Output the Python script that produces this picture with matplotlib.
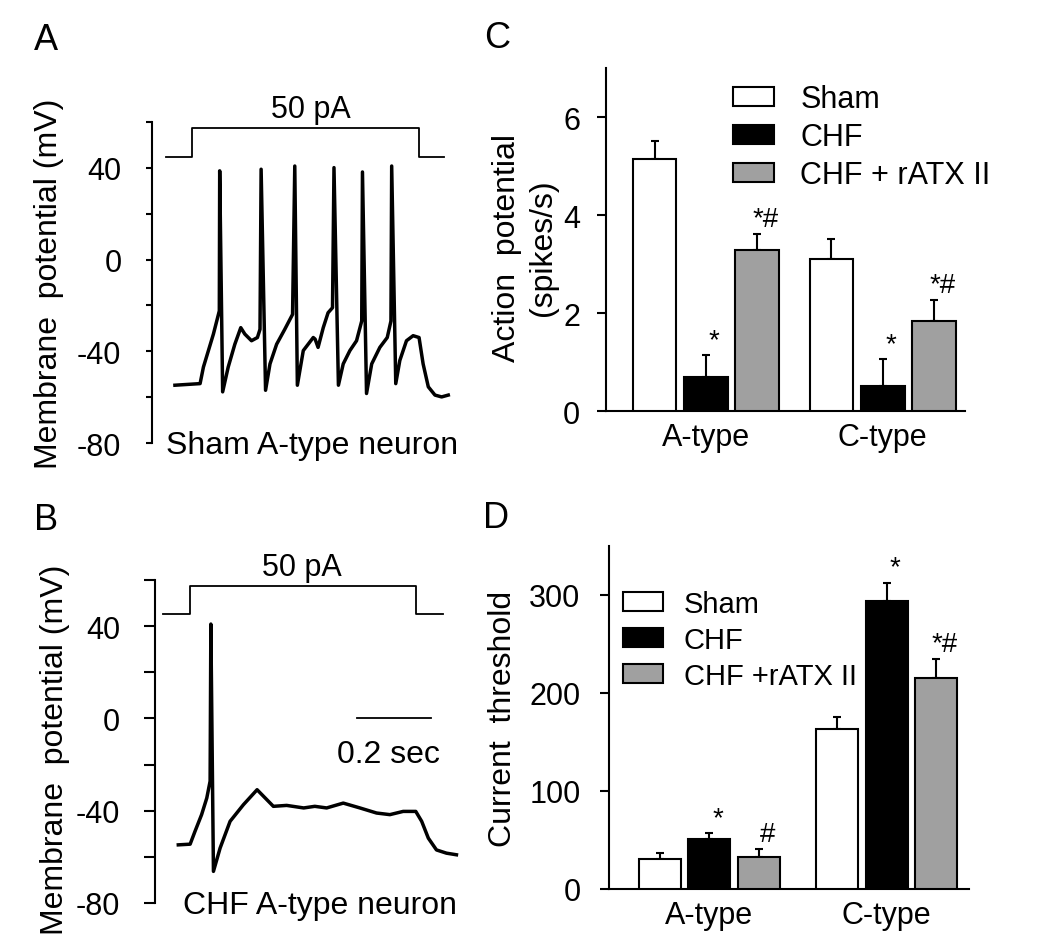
"""Sham vs CHF A-type neuron recordings with action potential and current threshold bars."""

import numpy as np
import matplotlib
matplotlib.use('Agg')
import matplotlib.pyplot as plt
from matplotlib.patches import Patch

plt.rcParams['font.family'] = ['Liberation Sans', 'DejaVu Sans']
plt.rcParams['font.size'] = 22

# ---- traces (time in ms, membrane potential in mV) ----
sham_t = [62, 130, 139, 166, 182, 183, 191, 206, 224, 240, 251, 269, 285, 292, 295,
          307, 319, 337, 359, 380, 386, 393, 409, 436, 441, 449, 463, 476, 488, 492,
          504, 517, 535, 553, 567, 569, 580, 594, 616, 636, 646, 648, 659, 670, 688,
          706, 722, 733, 747, 765, 783, 801]
sham_v = [-54.8, -54.1, -46.9, -32.5, -22.4, 38.7, -57.7, -46.9, -36.9, -29.7, -32.5,
          -35.4, -34.0, -30.4, 39.4, -57.0, -45.5, -36.9, -30.4, -23.9, 40.8, -54.8,
          -39.7, -34.0, -34.7, -38.3, -29.7, -23.2, -21.0, 40.1, -54.8, -45.5, -39.7,
          -35.4, -26.8, 38.2, -58.4, -45.5, -38.3, -34.0, -26.8, 40.8, -54.1, -44.0,
          -35.4, -33.2, -34.0, -45.5, -55.5, -59.1, -59.9, -59.1]

chf_t = [63, 95, 108, 126, 140, 149, 151, 158, 176, 203, 239, 276, 320, 356, 402, 432,
         464, 509, 554, 599, 635, 671, 705, 721, 739, 761, 788, 815]
chf_v = [-54.8, -54.5, -49.0, -41.7, -34.5, -27.2, 40.9, -66.3, -56.2, -44.6, -37.4,
         -30.9, -38.1, -37.7, -38.8, -38.1, -38.8, -36.7, -38.8, -41.0, -41.7, -40.3,
         -40.3, -44.6, -51.9, -57.0, -58.4, -59.1]

# current step marker (drawn on the voltage scale)
stim_sham_t = [38, 108, 722, 789]
stim_sham_v = [44.6, 57.5, 44.6, 44.6]
stim_chf_t = [22, 95, 705, 779]
stim_chf_v = [45.2, 57.3, 45.2, 45.2]

# ---- bar data ----
groups = ['A-type', 'C-type']
conditions = ['Sham', 'CHF', 'CHF + rATX II']
colors = ['white', 'black', '#a0a0a0']

ap_mean = {'Sham': [5.15, 3.10], 'CHF': [0.70, 0.52], 'CHF + rATX II': [3.28, 1.85]}
ap_err = {'Sham': [0.37, 0.42], 'CHF': [0.44, 0.54], 'CHF + rATX II': [0.33, 0.41]}
ap_marks = {'Sham': ['', ''], 'CHF': ['*', '*'], 'CHF + rATX II': ['*#', '*#']}

thr_mean = {'Sham': [31, 163], 'CHF': [51, 294], 'CHF + rATX II': [33, 215]}
thr_err = {'Sham': [6, 12], 'CHF': [6, 18], 'CHF + rATX II': [8, 19]}
thr_marks = {'Sham': ['', ''], 'CHF': ['*', '*'], 'CHF + rATX II': ['#', '*#']}

W, H = 1050, 953
fig = plt.figure(figsize=(W / 100, H / 100), dpi=100)


def px_axes(x0, y0, x1, y1):
    return fig.add_axes([x0 / W, 1 - y1 / H, (x1 - x0) / W, (y1 - y0) / H])


def trace_panel(ax, t, v, st, sv, caption, cap_x, ticklen, pad):
    ax.plot(t, v, color='black', lw=2.5, solid_joinstyle='round')
    ax.plot(st, sv, color='black', lw=1.3, drawstyle='steps-post')
    ax.set_xlim(0, 830)
    ax.set_ylim(-80, 60)
    for s in ['top', 'right', 'bottom']:
        ax.spines[s].set_visible(False)
    ax.spines['left'].set_linewidth(1.5)
    ax.set_xticks([])
    ax.set_yticks(np.arange(-80, 61, 20))
    ax.set_yticklabels(['-80', '', '-40', '', '0', '', '40', ''])
    ax.tick_params(axis='y', direction='out', length=ticklen, width=1.5, pad=pad,
                   labelsize=22)
    ax.set_ylabel('Membrane  potential (mV)', fontsize=23, va='center')
    ax.text(cap_x, -0.005, caption, transform=ax.transAxes, ha='center', va='center',
            fontsize=23)


# Panel A
axA = px_axes(152, 123, 459, 444)
trace_panel(axA, sham_t, sham_v, stim_sham_t, stim_sham_v, 'Sham A-type neuron', 0.52, 4, 18)
axA.yaxis.set_label_coords(-0.335, 0.5)
axA.text(0.518, 1.04, '50 pA', transform=axA.transAxes, ha='center', va='center', fontsize=22)

# Panel B
axB = px_axes(155, 581, 462, 904)
trace_panel(axB, chf_t, chf_v, stim_chf_t, stim_chf_v, 'CHF A-type neuron', 0.537, 8, 17)
axB.yaxis.set_label_coords(-0.326, 0.477)
axB.text(0.478, 1.04, '50 pA', transform=axB.transAxes, ha='center', va='center', fontsize=22)
axB.plot([546, 746], [0, 0], color='black', lw=1.3)
axB.annotate('0.2 sec', xy=(646, 0), xytext=(-4, -15), textcoords='offset points',
             ha='center', va='top', fontsize=23)


def bar_panel(ax, means, errs, marks, offset, width, ylim, yticks, ylabel, tickpad):
    x = np.arange(len(groups))
    for i, c in enumerate(conditions):
        xi = x + (i - 1) * offset
        ax.bar(xi, means[c], width, color=colors[i], edgecolor='black', lw=1.5,
               label=c, zorder=3)
        ax.errorbar(xi, means[c], yerr=[np.zeros(len(groups)), errs[c]], fmt='none',
                    ecolor='black', elinewidth=1.5, capsize=3, capthick=1.5, zorder=2)
        for xv, m, e, s in zip(xi, means[c], errs[c], marks[c]):
            if s:
                ax.annotate(s, xy=(xv, m + e), xytext=(6, 11), textcoords='offset points',
                            ha='center', va='center', fontsize=20)
    ax.set_xlim(-0.565, 1.465)
    ax.set_ylim(*ylim)
    ax.spines['top'].set_visible(False)
    ax.spines['right'].set_visible(False)
    ax.spines['left'].set_linewidth(1.5)
    ax.spines['bottom'].set_linewidth(1.5)
    ax.set_xticks(x)
    ax.set_xticklabels(groups)
    ax.set_yticks(yticks)
    ax.tick_params(axis='x', length=0, pad=8, labelsize=22)
    ax.tick_params(axis='y', direction='out', length=6.5, width=1.5, pad=tickpad,
                   labelsize=22)
    ax.set_ylabel(ylabel, fontsize=23, va='center', linespacing=1.25)


# Panel C
axC = px_axes(606, 69, 965, 412.3)
bar_panel(axC, ap_mean, ap_err, ap_marks, 0.29, 0.246, (0, 7), [0, 2, 4, 6],
          'Action  potential\n(spikes/s)', 12)
axC.yaxis.set_label_coords(-0.226, 0.48)
handles = [Patch(facecolor=colors[i], edgecolor='black', lw=1.5) for i in range(3)]
axC.legend(handles, ['Sham', 'CHF', 'CHF + rATX II'], loc='upper left',
           bbox_to_anchor=(733 / W, 1 - 85 / H), bbox_transform=fig.transFigure,
           frameon=False, fontsize=22, handlelength=1.35, handleheight=0.6,
           handletextpad=0.85, labelspacing=0.27, borderpad=0, borderaxespad=0)

# Panel D
axD = px_axes(609, 546.7, 969, 890)
bar_panel(axD, thr_mean, thr_err, thr_marks, 0.28, 0.237, (0, 350), [0, 100, 200, 300],
          'Current  threshold', 14)
axD.yaxis.set_label_coords(-0.294, 0.498)
axD.legend(handles, ['Sham', 'CHF', 'CHF +rATX II'], loc='upper left',
           bbox_to_anchor=(622.7 / W, 1 - 591 / H), bbox_transform=fig.transFigure,
           frameon=False, fontsize=21, handlelength=1.37, handleheight=0.62,
           handletextpad=0.72, labelspacing=0.27, borderpad=0, borderaxespad=0)

# panel letters
for letter, (lx, ly) in zip('ABCD', [(46, 41), (46, 521), (497, 39), (496, 519)]):
    fig.text(lx / W, 1 - ly / H, letter, ha='center', va='center', fontsize=26)

fig.savefig('out.png', dpi=100)
plt.close()
